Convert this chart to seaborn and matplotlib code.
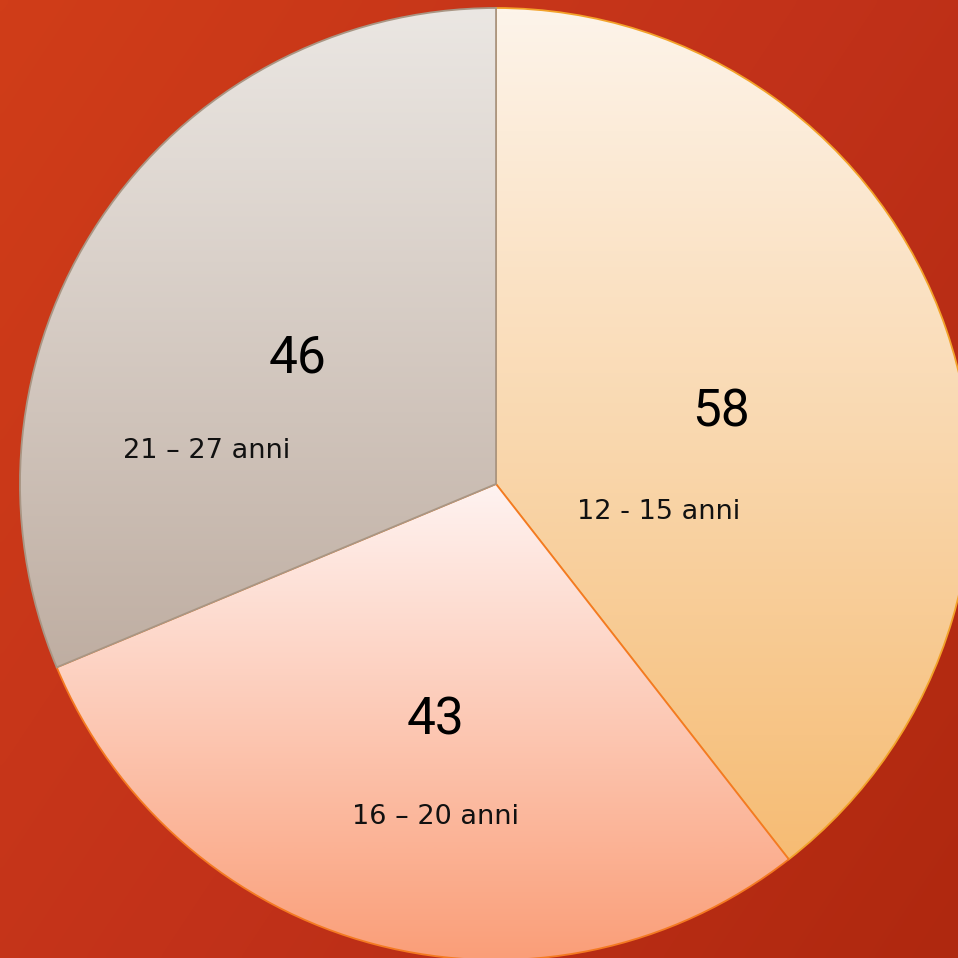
import numpy as np
import matplotlib
matplotlib.use("Agg")
import matplotlib.pyplot as plt
import seaborn as sns

# data
fasce = ["12 - 15 anni", "16 – 20 anni", "21 – 27 anni"]
valori = [58, 43, 46]

# gradient stops per slice (top -> bottom) and edge colours
grad_top = ["#FDF4EA", "#FFF3F1", "#EBE7E3"]
grad_bot = ["#F6BC74", "#FA9E78", "#BFAEA2"]
bordi = ["#F2A22A", "#F47A22", "#A99684"]

# where the category text goes (axes fraction)
pos_label = [(0.687, 0.466), (0.455, 0.147), (0.216, 0.529)]

sns.set_theme(style="white")
plt.rcParams["font.family"] = ["DejaVu Sans"]

W = 958
fig = plt.figure(figsize=(9.58, 9.58), dpi=100)
ax = fig.add_axes([0, 0, 1, 1])

# background, orange-red going darker towards bottom right
yy, xx = np.mgrid[0:1:200j, 0:1:200j]
bg = xx * 0.6 + yy * 0.4
bg_cmap = sns.blend_palette(["#D03D18", "#C2321A", "#AF280F"], as_cmap=True)
ax.imshow(bg, cmap=bg_cmap, extent=(0, W, 0, W), origin="upper", zorder=0,
          aspect="auto", interpolation="bicubic")

total = sum(valori)
wedges, texts, autotexts = ax.pie(
    valori, startangle=90, counterclock=False,
    center=(496, 474), radius=476,
    autopct=lambda p: f"{p * total / 100:.0f}", pctdistance=0.5,
    textprops=dict(fontsize=37, color="black", family="Roboto"),
    wedgeprops=dict(facecolor="none", linewidth=1.3),
)

grad = np.linspace(0, 1, 256).reshape(-1, 1)
renderer = fig.canvas.get_renderer()
inv = ax.transData.inverted()
for i, w in enumerate(wedges):
    w.set_edgecolor(bordi[i])
    w.set_zorder(2 * i + 2)
    # vertical gradient over the slice's own bounding box
    bb = w.get_window_extent(renderer=renderer)
    (x0, y0), (x1, y1) = inv.transform([[bb.x0, bb.y0], [bb.x1, bb.y1]])
    cmap = sns.blend_palette([grad_top[i], grad_bot[i]], as_cmap=True)
    im = ax.imshow(grad, cmap=cmap, extent=(x0, x1, y0, y1), origin="upper",
                   aspect="auto", zorder=2 * i + 1, interpolation="bicubic")
    im.set_clip_path(w)

for t in autotexts:
    x, y = t.get_position()
    t.set_position((x, y - 6))
    t.set_zorder(20)

for i, lab in enumerate(fasce):
    ax.text(pos_label[i][0], pos_label[i][1], lab, transform=ax.transAxes,
            ha="center", va="center", fontsize=19.5, color="#111111", zorder=20)

ax.set_xlim(0, W)
ax.set_ylim(0, W)
ax.set_aspect("equal")
ax.axis("off")

fig.savefig("out.png", dpi=100)
